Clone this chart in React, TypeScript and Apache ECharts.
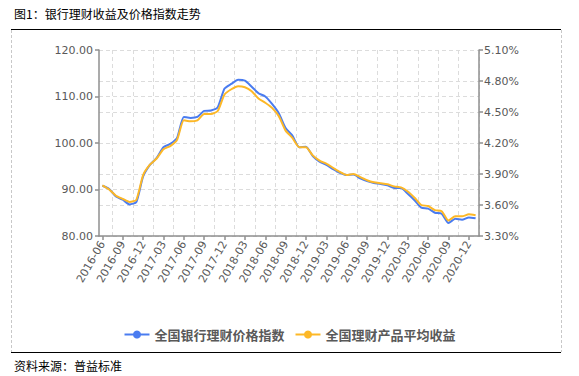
import React, { useEffect, useRef } from "react";
import * as echarts from "echarts";

const months: string[] = [
  "2016-06", "2016-07", "2016-08", "2016-09", "2016-10", "2016-11", "2016-12",
  "2017-01", "2017-02", "2017-03", "2017-04", "2017-05", "2017-06", "2017-07",
  "2017-08", "2017-09", "2017-10", "2017-11", "2017-12", "2018-01", "2018-02",
  "2018-03", "2018-04", "2018-05", "2018-06", "2018-07", "2018-08", "2018-09",
  "2018-10", "2018-11", "2018-12", "2019-01", "2019-02", "2019-03", "2019-04",
  "2019-05", "2019-06", "2019-07", "2019-08", "2019-09", "2019-10", "2019-11",
  "2019-12", "2020-01", "2020-02", "2020-03", "2020-04", "2020-05", "2020-06",
  "2020-07", "2020-08", "2020-09", "2020-10", "2020-11", "2020-12", "2021-01",
];

// 全国银行理财价格指数 (left axis)
const priceIndex: number[] = [
  90.8, 90.1, 88.5, 87.8, 86.8, 87.3, 92.8, 95.3, 96.8, 99.1,
  99.8, 101.1, 105.6, 105.4, 105.6, 106.9, 107.0, 107.7, 111.7, 112.7,
  113.6, 113.4, 112.1, 110.7, 110.0, 108.4, 106.4, 103.2, 101.6, 99.1,
  99.2, 97.2, 96.0, 95.3, 94.4, 93.6, 93.1, 93.2, 92.4, 91.8,
  91.4, 91.2, 90.9, 90.3, 90.3, 89.1, 87.7, 86.1, 85.9, 85.0,
  84.8, 82.8, 83.7, 83.5, 84.0, 83.8,
];

// 全国理财产品平均收益 (right axis, %)
const avgYield: number[] = [
  3.79, 3.75, 3.69, 3.66, 3.63, 3.65, 3.89, 3.99, 4.05, 4.14,
  4.17, 4.23, 4.42, 4.41, 4.42, 4.48, 4.48, 4.51, 4.67, 4.72,
  4.75, 4.74, 4.70, 4.63, 4.59, 4.54, 4.46, 4.32, 4.25, 4.16,
  4.16, 4.08, 4.03, 4.00, 3.96, 3.92, 3.89, 3.90, 3.87, 3.84,
  3.82, 3.81, 3.80, 3.78, 3.77, 3.73, 3.67, 3.60, 3.59, 3.55,
  3.54, 3.45, 3.49, 3.49, 3.51, 3.50,
];

const seriesNames: string[] = ["全国银行理财价格指数", "全国理财产品平均收益"];
const titleText = "图1：银行理财收益及价格指数走势";
const sourceText = "资料来源：普益标准";

const W = 579;
const H = 376;

export default function App() {
  const ref = useRef<HTMLDivElement>(null);

  useEffect(() => {
    if (!ref.current) return;
    const chart = echarts.init(ref.current, undefined, { renderer: "svg", width: W, height: H });
    const axisColor = "#8f8f8f";
    const labelColor = "#595959";
    const gridColor = "#dcdcdc";
    const font = "DejaVu Sans";
    const cjk = "Noto Sans CJK SC";

    chart.setOption({
      animation: false,
      backgroundColor: "#ffffff",
      grid: { left: 99, right: W - 479, top: 50, bottom: H - 236, containLabel: false },
      legend: {
        data: seriesNames,
        left: "center",
        top: 323,
        itemWidth: 25,
        itemHeight: 10,
        itemGap: 10,
        textStyle: { fontFamily: cjk, fontSize: 13, fontWeight: "bold", color: labelColor },
      },
      xAxis: {
        type: "category",
        data: months,
        boundaryGap: true,
        axisLine: { show: true, lineStyle: { color: axisColor, width: 1.5 } },
        axisTick: { show: true, alignWithLabel: true, interval: 2, length: 4, lineStyle: { color: axisColor, width: 1.5 } },
        axisLabel: { interval: 2, rotate: 60, margin: 6, color: labelColor, fontFamily: font, fontSize: 11 },
        splitLine: {
          show: true,
          interval: (i: number) => i % 3 === 2,
          lineStyle: { color: gridColor, type: [4, 3], width: 1 },
        },
      },
      yAxis: [
        {
          type: "value",
          min: 80,
          max: 120,
          interval: 10,
          position: "left",
          axisLine: { show: true, lineStyle: { color: axisColor, width: 1.5 } },
          axisTick: { show: true, length: 4, lineStyle: { color: axisColor, width: 1.5 } },
          axisLabel: { color: labelColor, fontFamily: font, fontSize: 11, margin: 6, formatter: (v: number) => v.toFixed(2) },
          splitLine: { show: true, lineStyle: { color: gridColor, type: [4, 3], width: 1 } },
        },
        {
          type: "value",
          min: 3.3,
          max: 5.1,
          interval: 0.3,
          position: "right",
          axisLine: { show: true, lineStyle: { color: axisColor, width: 1.5 } },
          axisTick: { show: true, length: 4, lineStyle: { color: axisColor, width: 1.5 } },
          axisLabel: { color: labelColor, fontFamily: font, fontSize: 11, margin: 5, formatter: (v: number) => v.toFixed(2) + "%" },
          splitLine: { show: true, lineStyle: { color: gridColor, type: [4, 3], width: 1 } },
        },
      ],
      series: [
        {
          name: seriesNames[0],
          type: "line",
          yAxisIndex: 0,
          data: priceIndex,
          symbol: "circle",
          symbolSize: 9,
          showSymbol: false,
          smooth: 0.2,
          itemStyle: { color: "#4a7cf0" },
          lineStyle: { color: "#4a7cf0", width: 2 },
          z: 3,
        },
        {
          name: seriesNames[1],
          type: "line",
          yAxisIndex: 1,
          data: avgYield,
          symbol: "circle",
          symbolSize: 9,
          showSymbol: false,
          smooth: 0.2,
          itemStyle: { color: "#fdb827" },
          lineStyle: { color: "#fdb827", width: 2 },
          z: 4,
        },
      ],
      graphic: [
        {
          type: "text",
          left: 14,
          top: 7,
          style: { text: titleText, fontFamily: cjk, fontSize: 12, fill: "#000000" },
        },
        {
          type: "line",
          shape: { x1: 11, y1: 29.5, x2: 561, y2: 29.5 },
          style: { stroke: "#000000", lineWidth: 1 },
        },
        {
          type: "line",
          shape: { x1: 11, y1: 352.5, x2: 561, y2: 352.5 },
          style: { stroke: "#000000", lineWidth: 1 },
        },
        {
          type: "line",
          shape: { x1: 11.5, y1: 30, x2: 11.5, y2: 352 },
          style: { stroke: "#c8c8c8", lineWidth: 1, lineDash: [3, 2] },
        },
        {
          type: "line",
          shape: { x1: 561.5, y1: 30, x2: 561.5, y2: 352 },
          style: { stroke: "#c8c8c8", lineWidth: 1, lineDash: [3, 2] },
        },
        {
          type: "text",
          left: 14,
          top: 359,
          style: { text: sourceText, fontFamily: cjk, fontSize: 12, fill: "#000000" },
        },
      ],
    });

    return () => chart.dispose();
  }, []);

  return (
    <div
      ref={ref}
      style={{ position: "fixed", left: 0, top: 0, width: W, height: H, background: "#fff" }}
    />
  );
}
